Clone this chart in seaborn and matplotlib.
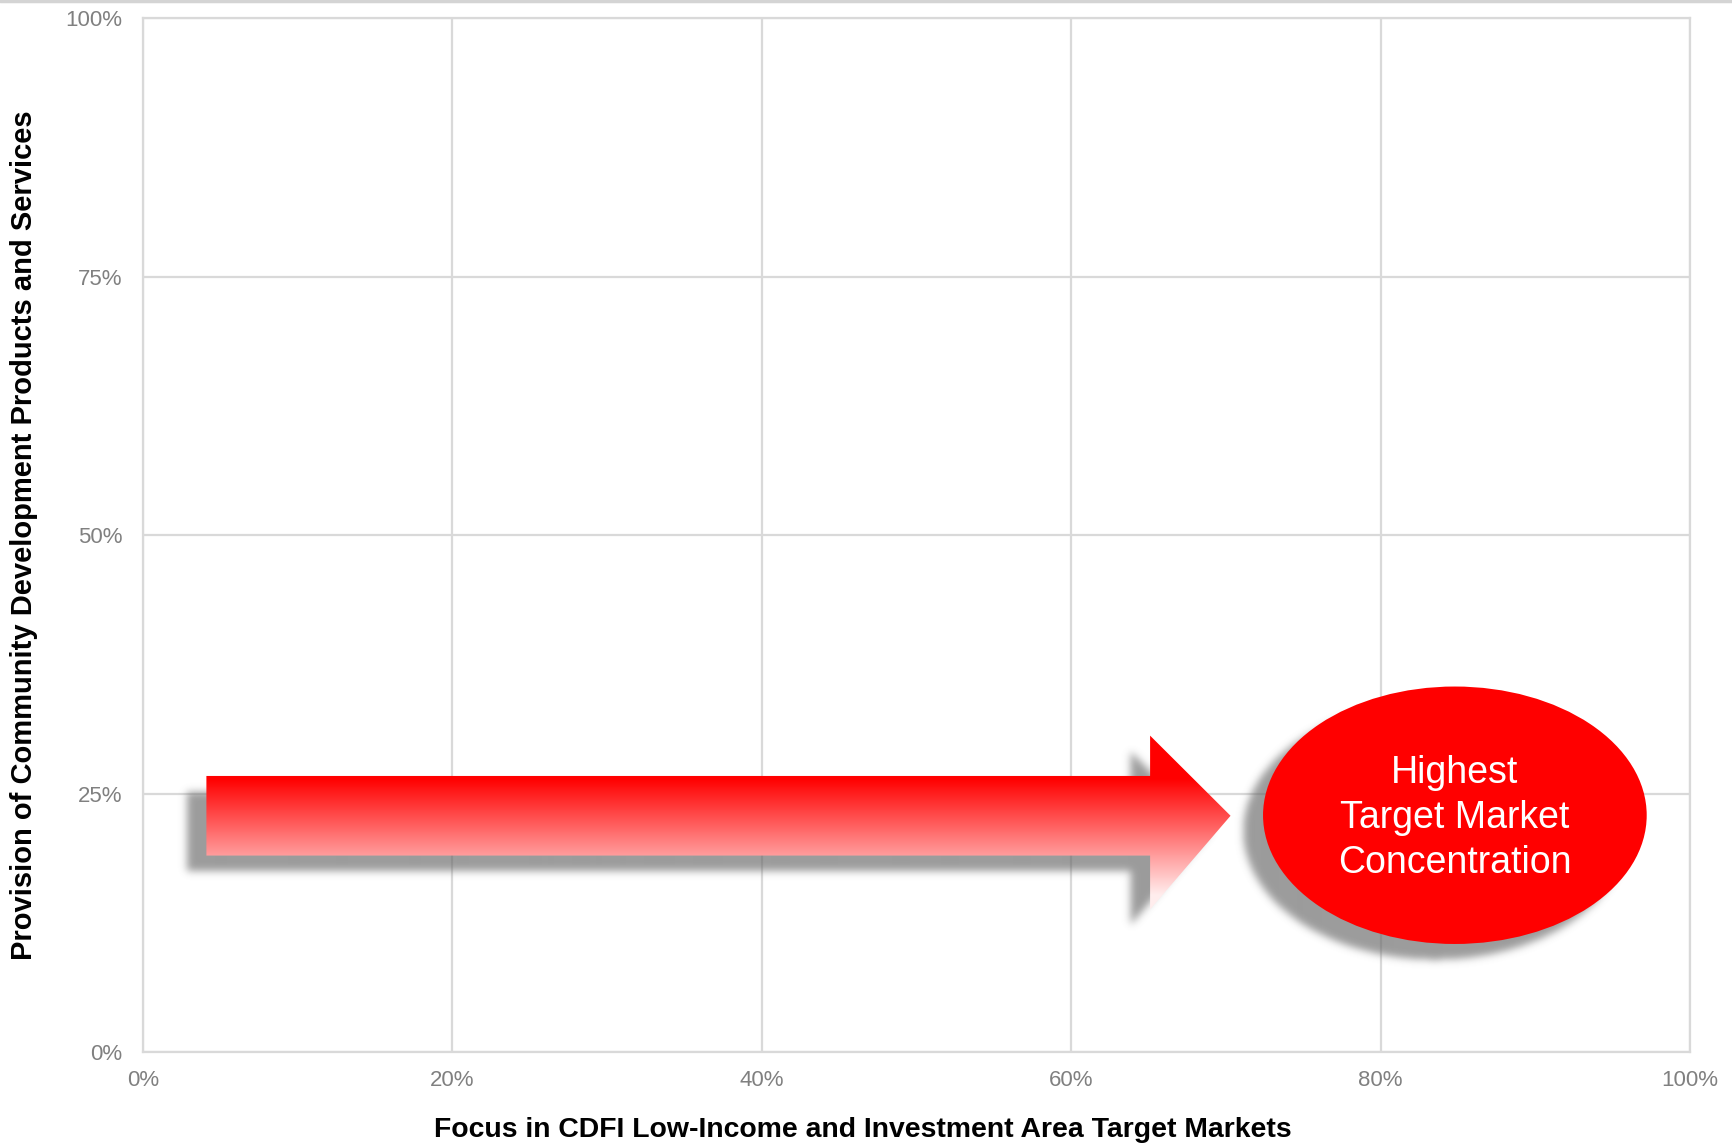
import numpy as np
import matplotlib
matplotlib.use("Agg")
import matplotlib.pyplot as plt
import seaborn as sns
from matplotlib.patches import Polygon, Ellipse
from matplotlib.path import Path
from matplotlib.lines import Line2D

# axis ticks
x_ticks = [0, 20, 40, 60, 80, 100]
y_ticks = [0, 25, 50, 75, 100]
x_tick_labels = ["0%", "20%", "40%", "60%", "80%", "100%"]
y_tick_labels = ["0%", "25%", "50%", "75%", "100%"]

x_label = "Focus in CDFI Low-Income and Investment Area Target Markets"
y_label = "Provision of Community Development Products and Services"

# callout shapes (data units, %)
arrow_start = 4.1
arrow_head_base = 65.1
arrow_tip = 70.3
arrow_body = (19.0, 26.7)
arrow_head = (13.8, 30.6)
ellipse_center = (84.8, 22.9)
ellipse_size = (24.8, 24.9)
ellipse_text = "Highest\nTarget Market\nConcentration"

shadow_offset = (-1.3, -1.55)

sns.set_theme(style="whitegrid")
plt.rcParams["font.family"] = ["Liberation Sans", "DejaVu Sans"]

fig = plt.figure(figsize=(17.33, 11.44), dpi=100)
ax = fig.add_axes([0.0825, 0.0804, 0.8927, 0.9038])
ax.set_xlim(0, 100)
ax.set_ylim(0, 100)
ax.set_axisbelow(True)
ax.grid(True, color="#d9d9d9", linewidth=1.6)
for s in ax.spines.values():
    s.set_color("#d9d9d9")
    s.set_linewidth(1.6)

ax.set_xticks(x_ticks)
ax.set_xticklabels(x_tick_labels)
ax.set_yticks(y_ticks)
ax.set_yticklabels(y_tick_labels)
ax.tick_params(axis="both", length=0, labelsize=16, labelcolor="#808080")
ax.tick_params(axis="x", pad=13)
ax.tick_params(axis="y", pad=15)

ax.set_xlabel(x_label, fontsize=20.4, fontweight="bold", color="black", va="center")
ax.xaxis.set_label_coords(0.465, -0.0755)
ax.set_ylabel(y_label, fontsize=21, fontweight="bold", color="black", va="center")
ax.yaxis.set_label_coords(-0.077, 0.5)

arrow_pts = [
    (arrow_start, arrow_body[0]),
    (arrow_start, arrow_body[1]),
    (arrow_head_base, arrow_body[1]),
    (arrow_head_base, arrow_head[1]),
    (arrow_tip, (arrow_body[0] + arrow_body[1]) / 2),
    (arrow_head_base, arrow_head[0]),
    (arrow_head_base, arrow_body[0]),
]

# blurred drop shadows
nx, ny = 1547, 1034
gx = np.linspace(0, 100, nx)
gy = np.linspace(0, 100, ny)
XX, YY = np.meshgrid(gx, gy)
sx = [(px + shadow_offset[0], py + shadow_offset[1]) for px, py in arrow_pts]
mask = Path(sx).contains_points(np.c_[XX.ravel(), YY.ravel()]).reshape(ny, nx).astype(float)
ecx, ecy = ellipse_center[0] + shadow_offset[0], ellipse_center[1] + shadow_offset[1]
emask = (((XX - ecx) / (ellipse_size[0] / 2)) ** 2 + ((YY - ecy) / (ellipse_size[1] / 2)) ** 2) <= 1
mask = np.maximum(mask, emask.astype(float))

k = np.exp(-0.5 * (np.arange(-12, 13) / 4.0) ** 2)
k /= k.sum()
blur = np.zeros_like(mask)
for i, w in zip(range(-12, 13), k):
    blur += w * np.roll(mask, i, axis=1)
mask = blur
blur = np.zeros_like(mask)
for i, w in zip(range(-12, 13), k):
    blur += w * np.roll(mask, i, axis=0)

shadow = np.zeros((ny, nx, 4))
shadow[..., :3] = 0.4
shadow[..., 3] = blur * 0.65
ax.imshow(shadow, extent=[0, 100, 0, 100], origin="lower", aspect="auto", zorder=1,
          interpolation="bilinear")

# gradient arrow: red at top fading to pale pink at bottom
arrow = Polygon(arrow_pts, closed=True, facecolor="none", edgecolor="none", zorder=2)
ax.add_patch(arrow)
t = np.linspace(0, 1, 256)[:, None]
f = np.clip((t - 0.25) / 0.72, 0, 0.93)
grad = np.zeros((256, 2, 3))
grad[..., 0] = 1.0
grad[..., 1] = f
grad[..., 2] = f
img = ax.imshow(grad, extent=[arrow_start, arrow_tip, arrow_head[0], arrow_head[1]],
                origin="upper", aspect="auto", zorder=2, interpolation="bilinear")
img.set_clip_path(arrow)

ell = Ellipse(ellipse_center, ellipse_size[0], ellipse_size[1], facecolor="#ff0000",
              edgecolor="none", zorder=3)
ax.add_patch(ell)
ax.text(ellipse_center[0], ellipse_center[1] - 0.3, ellipse_text, ha="center", va="center",
        multialignment="center", color="white", fontsize=27, zorder=4, linespacing=1.32)

ax.set_xlim(0, 100)
ax.set_ylim(0, 100)

fig.add_artist(Line2D([0, 1], [0.999, 0.999], transform=fig.transFigure,
                      color="#d4d4d4", linewidth=2.5))

fig.savefig("out.png", dpi=100)
